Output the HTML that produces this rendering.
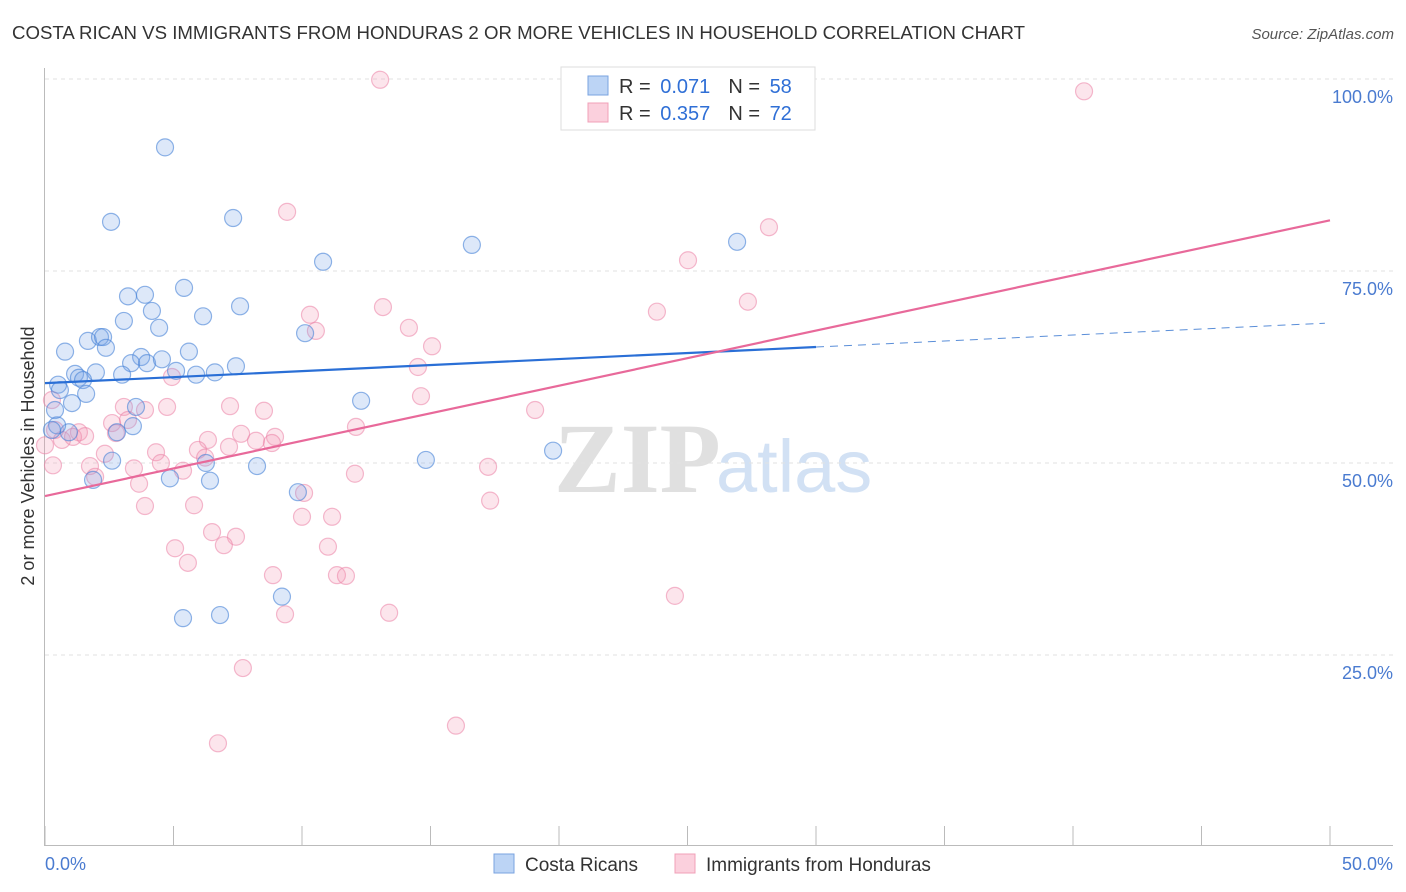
<!DOCTYPE html>
<html><head><meta charset="utf-8"><style>
body{margin:0;background:#fff;font-family:"Liberation Sans",sans-serif}
</style></head><body>
<svg id="chart" width="1406" height="892" xmlns="http://www.w3.org/2000/svg" style="display:block">
<text x="12" y="39" font-size="18" fill="#333" textLength="1013" lengthAdjust="spacingAndGlyphs">COSTA RICAN VS IMMIGRANTS FROM HONDURAS 2 OR MORE VEHICLES IN HOUSEHOLD CORRELATION CHART</text>
<text x="1394" y="39" font-size="15" fill="#555" text-anchor="end" font-style="italic">Source: ZipAtlas.com</text>
<g>
<text x="554" y="492" font-family="Liberation Serif,serif" font-size="100" font-weight="bold" fill="#e0e0e0">ZIP</text>
<text x="716" y="492" font-size="74" fill="#d2e1f4">atlas</text>
</g>
<g id="grid"></g>
<line x1="44.5" y1="68" x2="44.5" y2="845" stroke="#bbb"/>
<line x1="44" y1="845.5" x2="1393" y2="845.5" stroke="#bbb"/>
<g id="xticks"></g>
<text transform="translate(34,456) rotate(-90)" font-size="18" fill="#333" text-anchor="middle">2 or more Vehicles in Household</text>
<text x="45" y="870" font-size="18" fill="#4a7bd0">0.0%</text>
<text x="1393" y="870" font-size="18" fill="#4a7bd0" text-anchor="end">50.0%</text>
<g id="points"></g>
<g id="lines"></g>
<g>
<rect x="561" y="67" width="254" height="63" fill="#fff" stroke="#ddd"/>
<rect x="588" y="76" width="20" height="19" fill="#bcd4f5" stroke="#7aa3e0"/>
<rect x="588" y="103" width="20" height="19" fill="#fbd0dd" stroke="#f0a0b8"/>
<text x="619" y="93" font-size="20" fill="#333">R = <tspan fill="#2f6fd6" dx="4">0.071</tspan><tspan dx="18" fill="#333">N = </tspan><tspan fill="#2f6fd6" dx="4">58</tspan></text>
<text x="619" y="120" font-size="20" fill="#333">R = <tspan fill="#2f6fd6" dx="4">0.357</tspan><tspan dx="18" fill="#333">N = </tspan><tspan fill="#2f6fd6" dx="4">72</tspan></text>
</g>
<g>
<rect x="494" y="854" width="20" height="19" fill="#bcd4f5" stroke="#7aa3e0"/>
<text x="525" y="871" font-size="19" fill="#333">Costa Ricans</text>
<rect x="675" y="854" width="20" height="19" fill="#fbd0dd" stroke="#f0a0b8"/>
<text x="706" y="871" font-size="19" fill="#333">Immigrants from Honduras</text>
</g>
</svg>
<script>
const blueX=[4.67,2.57,7.32,16.61,26.93,10.82,5.41,3.23,3.89,7.59,4.16,6.15,3.07,4.44,10.12,1.67,2.14,2.26,2.37,0.78,5.60,3.74,3.35,3.97,4.55,7.43,3.00,5.88,6.61,5.10,1.98,1.17,1.32,1.48,0.51,0.58,1.60,1.05,0.39,12.30,3.54,3.42,0.93,2.80,0.47,6.26,8.25,2.61,14.82,19.77,1.87,4.86,6.42,9.84,9.22,5.37,6.81,0.27];
const blueY=[91.1,81.4,81.9,78.4,78.8,76.2,72.8,71.7,71.9,70.4,69.8,69.1,68.5,67.6,66.9,65.9,66.4,66.4,65.0,64.5,64.5,63.8,63.0,63.0,63.5,62.6,61.5,61.5,61.8,62.0,61.8,61.6,61.1,60.8,60.2,59.5,59.0,57.8,56.9,58.1,57.3,54.8,54.0,54.0,54.9,50.0,49.6,50.3,50.4,51.6,47.8,48.0,47.7,46.2,32.6,29.8,30.2,54.3];
const pinkX=[13.04,40.43,9.42,28.17,25.02,27.35,23.81,13.15,10.31,10.54,14.16,15.06,14.51,4.94,14.63,19.07,3.07,4.75,3.89,7.20,8.52,3.23,2.61,12.10,7.63,6.34,8.21,7.16,8.95,8.83,1.32,0.66,1.09,1.56,2.76,4.32,2.33,5.95,6.23,4.51,3.46,1.75,5.37,12.06,17.24,1.95,3.66,3.89,5.80,10.08,17.32,6.50,7.43,6.96,10.00,11.17,11.01,5.06,5.56,8.87,11.36,11.71,9.34,13.39,24.51,7.70,6.73,15.99,0.31,0.39,0.0,0.27];
const pinkY=[99.9,98.4,82.7,80.7,76.4,71.0,69.7,70.3,69.3,67.2,67.6,65.2,62.5,61.2,58.7,56.9,57.3,57.3,56.9,57.4,56.8,55.6,55.2,54.7,53.8,53.0,52.9,52.1,53.4,52.6,54.0,53.0,53.4,53.5,53.9,51.4,51.2,51.7,50.7,50.0,49.3,49.6,49.0,48.6,49.5,48.2,47.3,44.4,44.5,46.1,45.1,41.0,40.4,39.3,43.0,43.0,39.1,38.9,37.0,35.4,35.4,35.3,30.3,30.5,32.7,23.3,13.5,15.8,49.7,54.3,52.3,58.2];
const yTicks=[25,50,75,100];
const yTickLabels=["25.0%","50.0%","75.0%","100.0%"];
const xTicks=[0,5,10,15,20,25,30,35,40,45,50];
const blueTrend=[60.4,65.1]; // y at x=0 and x=30
const blueSolidEnd=30;
const pinkTrend=[45.7,81.6]; // y at x=0 and x=50

const NS="http://www.w3.org/2000/svg";
const sx=v=>45+v/50*1285;
const sy=v=>847-v*7.68;
function mk(tag,attrs,parent){const e=document.createElementNS(NS,tag);for(const k in attrs)e.setAttribute(k,attrs[k]);parent.appendChild(e);return e;}
const grid=document.getElementById('grid');
yTicks.forEach((t,i)=>{
  const l=mk('line',{x1:45,x2:1393,y1:sy(t),y2:sy(t),stroke:'#e2e2e2','stroke-dasharray':'4,4'},grid);
  
  
  const tx=mk('text',{x:1393,y:sy(t)+24,'font-size':18,fill:'#4a7bd0','text-anchor':'end'},grid);
  tx.textContent=yTickLabels[i];
  
  
});
const xt=document.getElementById('xticks');
xTicks.forEach(t=>{
  const l=mk('line',{x1:sx(t),x2:sx(t),y1:826,y2:845,stroke:'#bbb'},xt);
  
  
});
const pts=document.getElementById('points');
pinkX.forEach((x,i)=>{
  const c=mk('circle',{cx:sx(x),cy:sy(pinkY[i]),r:8.5,fill:'rgba(242,150,180,0.25)',stroke:'rgba(235,130,165,0.55)','stroke-width':1.2},pts);
  
  
});
blueX.forEach((x,i)=>{
  const c=mk('circle',{cx:sx(x),cy:sy(blueY[i]),r:8.5,fill:'rgba(120,165,230,0.25)',stroke:'rgba(70,130,215,0.6)','stroke-width':1.2},pts);
  
  
});
const ln=document.getElementById('lines');
const bAt=x=>blueTrend[0]+(blueTrend[1]-blueTrend[0])*x/30;
let l1=mk('line',{x1:sx(0),y1:sy(bAt(0)),x2:sx(blueSolidEnd),y2:sy(bAt(blueSolidEnd)),stroke:'#2a6fd6','stroke-width':2.2},ln);


let l2=mk('line',{x1:sx(blueSolidEnd),y1:sy(bAt(blueSolidEnd)),x2:sx(49.8),y2:sy(bAt(49.8)),stroke:'#5a8ed8','stroke-width':1,'stroke-dasharray':'8,6'},ln);


let l3=mk('line',{x1:sx(0),y1:sy(pinkTrend[0]),x2:sx(50),y2:sy(pinkTrend[1]),stroke:'#e8699a','stroke-width':2.2},ln);


</script>
</body></html>
